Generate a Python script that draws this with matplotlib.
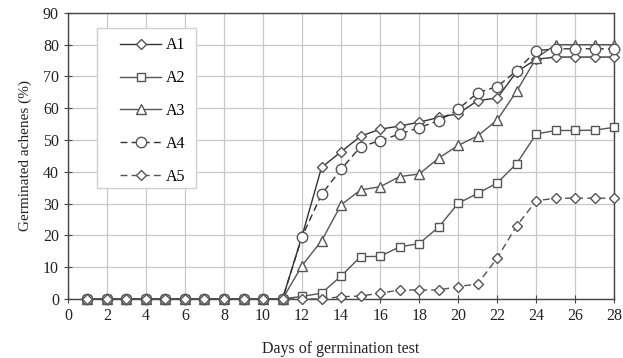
import matplotlib.pyplot as plt
from matplotlib.patches import Rectangle

plt.rcParams['font.family'] = ['Liberation Serif', 'DejaVu Serif']

days = list(range(1, 29))
zeros = [0] * 11

a1 = zeros + [19.8, 41.4, 46.3, 51.2, 53.4, 54.4, 55.6, 57.1, 58.3, 62.4, 63.2, 71.5, 75.4, 76.1, 76.1, 76.1, 76.1]
a2 = zeros + [0.8, 1.8, 7.2, 13.3, 13.4, 16.4, 17.4, 22.6, 30.1, 33.2, 36.5, 42.6, 51.9, 53.0, 53.0, 53.1, 54.0]
a3 = zeros + [10.5, 18.3, 29.6, 34.3, 35.3, 38.5, 39.3, 44.3, 48.3, 51.3, 56.3, 65.4, 75.8, 80.0, 80.0, 80.0, 80.0]
a4 = zeros + [19.6, 32.9, 40.8, 47.9, 49.8, 51.9, 53.9, 56.1, 59.7, 64.9, 66.8, 71.8, 78.1, 78.7, 78.7, 78.7, 78.7]
a5 = zeros + [0.0, 0.0, 0.7, 0.9, 1.8, 2.8, 2.8, 2.8, 3.9, 4.7, 12.9, 23.0, 30.9, 31.7, 31.7, 31.7, 31.7]

series = [
    ('A1', a1, 'D', '-', '#333333', 5),
    ('A2', a2, 's', '-', '#555555', 6),
    ('A3', a3, '^', '-', '#555555', 7),
    ('A4', a4, 'o', (0, (5, 3)), '#333333', 7.5),
    ('A5', a5, 'D', (0, (5, 3)), '#555555', 5),
]

fig = plt.figure(figsize=(6.23, 3.58), dpi=100)
ax = fig.add_axes([0.109, 0.165, 0.877, 0.799])

for name, vals, mk, ls, col, ms in series:
    ax.plot(days, vals, color=col, linestyle=ls, linewidth=1.0, marker=mk,
            markersize=ms, markerfacecolor='white', markeredgecolor='#555555',
            markeredgewidth=1.0, label=name, clip_on=False, zorder=3)

ax.set_xlim(0, 28)
ax.set_ylim(0, 90)
ax.set_xticks(range(0, 29, 2))
ax.set_yticks(range(0, 91, 10))
ax.grid(True, color='#c8c8c8', linewidth=0.9)
ax.set_axisbelow(True)
for s in ax.spines.values():
    s.set_color('#444444')
    s.set_linewidth(1.0)
ax.tick_params(direction='inout', length=6, color='#444444', labelsize=11.5, labelcolor='#222222')

ax.set_xlabel('Days of germination test', fontsize=11.5, color='#222222', labelpad=12)
ax.set_ylabel('Germinated achenes (%)', fontsize=11, color='#222222', labelpad=8)

# legend box drawn by hand so the padding matches
ax.add_patch(Rectangle((0.053, 0.388), 0.181, 0.56, transform=ax.transAxes,
                       facecolor='white', edgecolor='#d0d0d0', linewidth=1.0, zorder=4))
leg = ax.legend(loc='upper left', bbox_to_anchor=(0.095, 0.914), fontsize=11.5,
                labelspacing=1.05, handlelength=2.6, borderpad=0, handletextpad=0.3,
                frameon=False, borderaxespad=0)
leg.set_zorder(5)

fig.savefig('out.png', dpi=100)
